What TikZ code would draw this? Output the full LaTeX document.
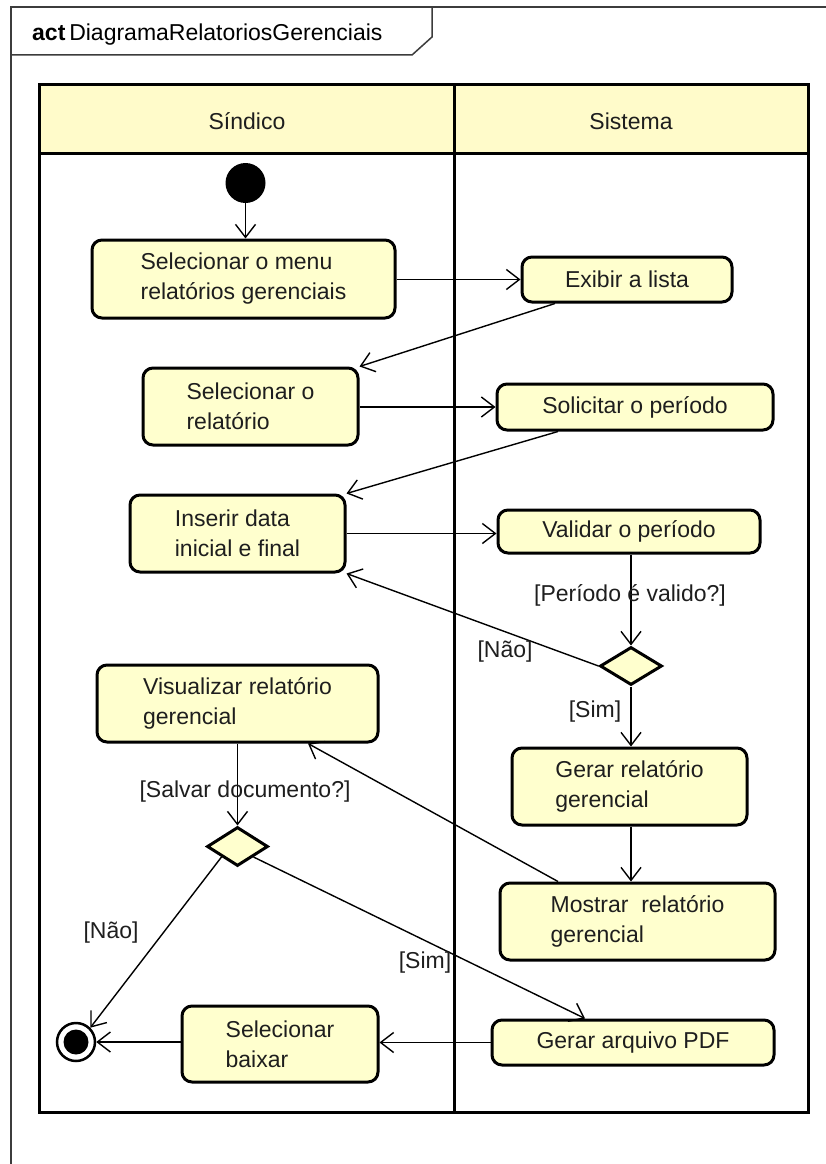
\documentclass[tikz,border=0pt]{standalone}
\usepackage{fontspec}
\setmainfont{Liberation Sans}
\usetikzlibrary{shapes.geometric,arrows.meta,calc}
\definecolor{actfill}{RGB}{255,255,206}
\definecolor{lanefill}{RGB}{255,251,202}
\definecolor{framegray}{RGB}{60,60,60}
\definecolor{ink}{RGB}{30,30,30}

\begin{document}
\begin{tikzpicture}[x=1pt,y=-1pt,
  action/.style={draw=black, line width=3pt, rounded corners=10pt, fill=actfill,
    align=left, font=\fontsize{23}{30}\selectfont, text=ink, inner sep=0pt},
  decision/.style={diamond, draw=black, line width=3pt, fill=actfill,
    minimum width=62pt, minimum height=38pt, inner sep=0pt},
  flow/.style={line width=1.4pt, draw=black,
    -{Straight Barb[length=13pt,width=20pt,line width=1.4pt]}},
  guard/.style={font=\fontsize{23}{26}\selectfont, text=ink, inner sep=0pt},
  lanetitle/.style={font=\fontsize{23}{26}\selectfont, text=ink, inner sep=0pt},
]
\useasboundingbox (0,0) rectangle (826,1164);
\fill[white] (0,0) rectangle (826,1164);

% activity frame with its name tab
\draw[framegray, line width=1.5pt] (11,1170) -- (11,7) -- (830,7);
\draw[framegray, line width=1.5pt] (11,55) -- (412,55) -- (432,37) -- (432,7);
\node[anchor=west, font=\fontsize{23}{26}\selectfont, text=black, inner sep=0pt] (title) at (32,35)
  {\textbf{act}\,DiagramaRelatoriosGerenciais};

% swimlanes
\fill[lanefill] (39,84) rectangle (808,153);
\draw[line width=3pt] (39,84) rectangle (808,1112);
\draw[line width=3pt] (39,153) -- (808,153);
\draw[line width=3pt] (454,84) -- (454,1112);
\node[lanetitle] (lane1) at (247,121) {Síndico};
\node[lanetitle] (lane2) at (631,121) {Sistema};

% initial and final nodes
\node[circle, fill=black, minimum size=40pt, inner sep=0pt] (start) at (245.5,183) {};
\node[circle, draw=black, fill=white, line width=2.5pt, minimum size=38pt, inner sep=0pt] (finish) at (76,1042) {};
\node[circle, fill=black, minimum size=25pt, inner sep=0pt] (finishcore) at (finish) {};

% actions
\node[action, minimum width=303pt, minimum height=78pt] (menu) at (243.5,279)
  {Selecionar o menu\\relatórios gerenciais};
\node[action, minimum width=210pt, minimum height=45pt] (lista) at (627,279.5)
  {Exibir a lista};
\node[action, minimum width=215pt, minimum height=77pt] (selrel) at (250.5,406.5)
  {Selecionar o\\relatório};
\node[action, minimum width=276pt, minimum height=46pt] (solic) at (635,407)
  {Solicitar o período};
\node[action, minimum width=215pt, minimum height=77pt] (inserir) at (237.5,533.5)
  {Inserir data\\inicial e final};
\node[action, minimum width=262pt, minimum height=43pt] (validar) at (629,531.5)
  {Validar o período};
\node[decision] (dec1) at (631,666) {};
\node[action, minimum width=235pt, minimum height=77pt] (gerar) at (629.5,786.5)
  {Gerar relatório\\gerencial};
\node[action, minimum width=275pt, minimum height=77pt] (mostrar) at (637.5,921.5)
  {Mostrar\ \ relatório\\gerencial};
\node[action, minimum width=281pt, minimum height=77pt] (visual) at (237.5,703.5)
  {Visualizar relatório\\gerencial};
\node[decision, minimum width=61pt, minimum height=39pt] (dec2) at (237.5,846.5) {};
\node[action, minimum width=196pt, minimum height=76pt] (baixar) at (280,1044)
  {Selecionar\\baixar};
\node[action, minimum width=282pt, minimum height=45pt] (pdf) at (633,1042.5)
  {Gerar arquivo PDF};

% control flows
\draw[flow] (start) -- (menu.north -| start);
\draw[flow] (menu.east |- lista) -- (lista.west);
\draw[flow] ($(lista.south)+(-72,0)$) -- (selrel.north east);
\draw[flow] (selrel.east |- solic) -- (solic.west);
\draw[flow] ($(solic.south)+(-77,0)$) -- (inserir.north east);
\draw[flow] (inserir.east) -- (validar.west |- inserir.east);
\draw[flow] (validar.south -| dec1) -- (dec1.north);
\draw[flow] (dec1.west) -- (inserir.south east);
\draw[flow] (dec1.south) -- (gerar.north -| dec1);
\draw[flow] (gerar.south -| dec1) -- (mostrar.north -| dec1);
\draw[flow] ($(mostrar.north)+(-79.5,0)$) -- ($(visual.south)+(70.5,0)$);
\draw[flow] (visual.south -| dec2) -- (dec2.north);
\draw[flow] (dec2.south west) -- (finish.north east);
\draw[flow] (dec2.south east) -- ($(pdf.north)+(-48,0)$);
\draw[flow] (pdf.west) -- (baixar.east |- pdf.west);
\draw[flow] (baixar.west |- finish) -- (finish.east);

% guards
\node[guard] (g1) at (630,595) {[Período é valido?]};
\node[guard] (g2) at (505,652) {[Não]};
\node[guard] (g3) at (595,712) {[Sim]};
\node[guard] (g4) at (245,792) {[Salvar documento?]};
\node[guard] (g5) at (111,933) {[Não]};
\node[guard] (g6) at (425,963) {[Sim]};
\end{tikzpicture}
\end{document}
